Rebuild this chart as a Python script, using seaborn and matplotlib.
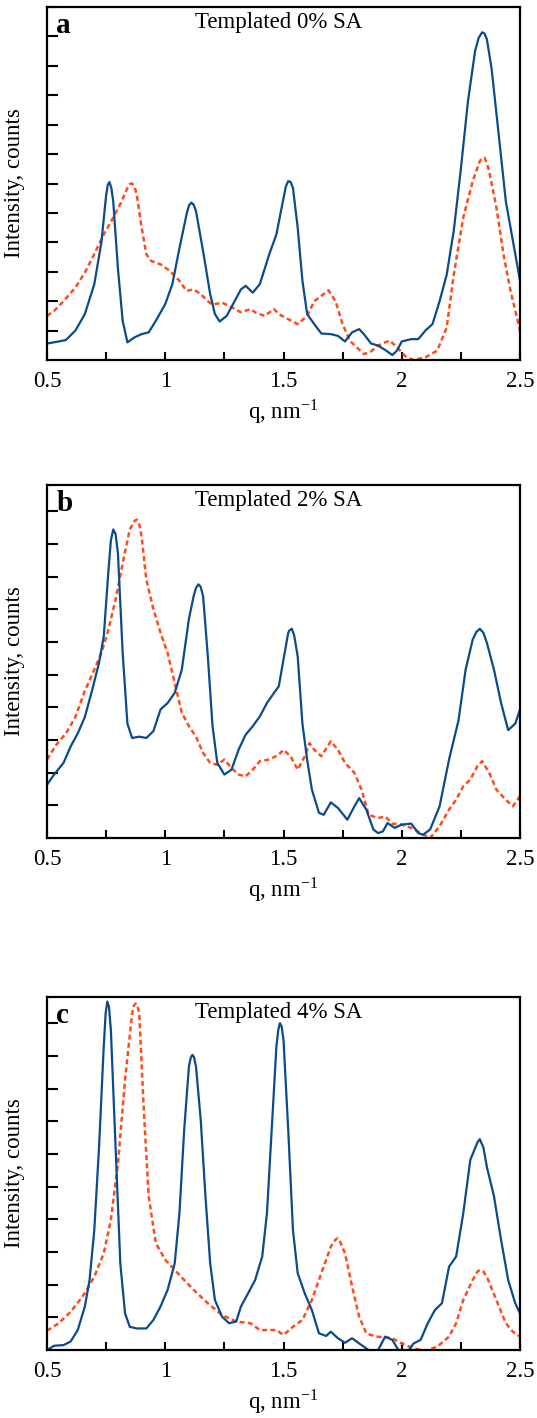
import numpy as np
import pandas as pd
import matplotlib
matplotlib.use("Agg")
import matplotlib.pyplot as plt
import seaborn as sns

# === SAXS data (intensity in tick units) ===
# panel a: templated 0% SA
q_a_blue = [0.50, 0.55, 0.58, 0.62, 0.66, 0.70, 0.73, 0.75, 0.757, 0.764, 0.772, 0.78, 0.80, 0.82, 0.84,
            0.87, 0.90, 0.93, 0.96, 1.00, 1.03, 1.06, 1.09, 1.10, 1.11, 1.12, 1.13, 1.16, 1.19, 1.21,
            1.23, 1.26, 1.29, 1.32, 1.34, 1.37, 1.40, 1.44, 1.47, 1.50, 1.51, 1.52, 1.53, 1.54, 1.56,
            1.58, 1.60, 1.63, 1.66, 1.70, 1.73, 1.76, 1.79, 1.82, 1.84, 1.87, 1.90, 1.93, 1.96, 1.98,
            2.00, 2.04, 2.07, 2.10, 2.13, 2.16, 2.19, 2.22, 2.25, 2.28, 2.31, 2.325, 2.34, 2.35, 2.36,
            2.38, 2.41, 2.44, 2.47, 2.50]
i_a_blue = [0.56, 0.63, 0.68, 1.00, 1.56, 2.58, 4.00, 5.60, 5.95, 6.05, 5.85, 5.40, 3.10, 1.33, 0.60,
            0.77, 0.88, 0.94, 1.33, 1.90, 2.58, 3.80, 4.95, 5.25, 5.35, 5.28, 5.06, 3.70, 2.24, 1.56,
            1.31, 1.50, 1.95, 2.40, 2.52, 2.29, 2.58, 3.60, 4.27, 5.50, 5.90, 6.08, 6.05, 5.85, 4.50,
            2.70, 1.56, 1.22, 0.90, 0.88, 0.82, 0.63, 0.94, 1.05, 0.88, 0.56, 0.49, 0.34, 0.17, 0.32,
            0.63, 0.71, 0.71, 1.00, 1.22, 2.00, 2.90, 4.40, 6.50, 8.80, 10.50, 10.95, 11.14, 11.10, 10.90,
            9.90, 7.66, 5.40, 4.05, 2.70]
q_a_red = [0.50, 0.53, 0.57, 0.62, 0.66, 0.70, 0.74, 0.78, 0.81, 0.84, 0.85, 0.86, 0.87, 0.88, 0.90,
           0.92, 0.94, 0.98, 1.02, 1.06, 1.09, 1.12, 1.15, 1.18, 1.20, 1.24, 1.28, 1.32, 1.36, 1.38,
           1.42, 1.46, 1.48, 1.52, 1.56, 1.60, 1.63, 1.66, 1.69, 1.72, 1.75, 1.78, 1.81, 1.84, 1.87,
           1.90, 1.93, 1.95, 1.98, 2.02, 2.05, 2.10, 2.15, 2.19, 2.22, 2.26, 2.30, 2.33, 2.34, 2.35,
           2.36, 2.37, 2.40, 2.43, 2.46, 2.50]
i_a_red = [1.50, 1.67, 2.00, 2.46, 2.97, 3.60, 4.27, 4.84, 5.30, 5.85, 5.98, 6.00, 5.90, 5.60, 4.50,
           3.60, 3.37, 3.25, 3.03, 2.69, 2.35, 2.40, 2.24, 2.00, 1.88, 1.95, 1.80, 1.62, 1.73, 1.62,
           1.50, 1.73, 1.56, 1.39, 1.22, 1.50, 2.00, 2.18, 2.37, 2.00, 1.22, 0.66, 0.43, 0.20, 0.29,
           0.49, 0.60, 0.66, 0.43, 0.09, 0.00, 0.09, 0.32, 1.10, 2.90, 4.84, 6.08, 6.76, 6.86, 6.87,
           6.70, 6.40, 5.20, 3.60, 2.35, 1.00]

# panel b: templated 2% SA
q_b_blue = [0.50, 0.53, 0.57, 0.60, 0.63, 0.66, 0.69, 0.72, 0.74, 0.76, 0.77, 0.78, 0.79, 0.80, 0.82,
            0.84, 0.86, 0.89, 0.92, 0.95, 0.98, 1.01, 1.04, 1.07, 1.10, 1.12, 1.13, 1.14, 1.15, 1.16,
            1.18, 1.20, 1.22, 1.25, 1.28, 1.31, 1.34, 1.37, 1.40, 1.43, 1.46, 1.48, 1.50, 1.52, 1.525,
            1.535, 1.545, 1.56, 1.58, 1.60, 1.62, 1.65, 1.67, 1.70, 1.73, 1.77, 1.80, 1.82, 1.85, 1.88,
            1.90, 1.92, 1.94, 1.97, 2.00, 2.04, 2.07, 2.09, 2.12, 2.16, 2.20, 2.24, 2.27, 2.30, 2.315,
            2.33, 2.345, 2.36, 2.39, 2.42, 2.45, 2.48, 2.50]
i_b_blue = [1.63, 1.94, 2.30, 2.80, 3.20, 3.70, 4.50, 5.36, 6.17, 8.20, 9.10, 9.44, 9.30, 8.70, 5.66,
            3.50, 3.06, 3.10, 3.06, 3.27, 3.93, 4.13, 4.44, 5.15, 6.70, 7.40, 7.65, 7.76, 7.68, 7.40,
            5.56, 3.42, 2.30, 1.94, 2.09, 2.70, 3.16, 3.42, 3.72, 4.13, 4.44, 4.64, 5.46, 6.28, 6.35,
            6.40, 6.20, 5.56, 3.50, 2.40, 1.48, 0.77, 0.71, 1.09, 0.92, 0.56, 0.97, 1.22, 0.87, 0.26,
            0.15, 0.20, 0.46, 0.31, 0.41, 0.44, 0.15, 0.10, 0.26, 0.97, 2.40, 3.60, 5.15, 6.07, 6.30,
            6.40, 6.28, 5.97, 5.15, 4.13, 3.30, 3.50, 3.93]
q_b_red = [0.50, 0.54, 0.58, 0.62, 0.66, 0.70, 0.73, 0.76, 0.79, 0.82, 0.85, 0.87, 0.88, 0.89, 0.90,
           0.92, 0.95, 0.98, 1.01, 1.04, 1.07, 1.10, 1.13, 1.16, 1.19, 1.22, 1.25, 1.28, 1.31, 1.34,
           1.37, 1.40, 1.44, 1.48, 1.50, 1.53, 1.56, 1.59, 1.61, 1.63, 1.66, 1.70, 1.73, 1.76, 1.80,
           1.83, 1.86, 1.90, 1.93, 1.96, 2.00, 2.04, 2.08, 2.12, 2.16, 2.20, 2.23, 2.26, 2.29, 2.32,
           2.34, 2.37, 2.40, 2.44, 2.47, 2.50]
i_b_red = [2.40, 2.86, 3.20, 3.70, 4.50, 5.15, 5.66, 6.38, 7.30, 8.40, 9.44, 9.70, 9.74, 9.60, 9.23,
           7.90, 7.00, 6.28, 5.66, 4.74, 3.83, 3.42, 3.10, 2.60, 2.30, 2.24, 2.40, 2.14, 1.94, 1.89,
           2.09, 2.35, 2.40, 2.55, 2.70, 2.50, 2.09, 2.50, 2.90, 2.70, 2.50, 2.96, 2.70, 2.30, 1.99,
           1.48, 0.71, 0.61, 0.66, 0.44, 0.41, 0.31, 0.15, 0.00, 0.36, 0.87, 1.17, 1.58, 1.79, 2.20,
           2.35, 1.99, 1.48, 1.17, 0.97, 1.28]

# panel c: templated 4% SA
q_c_blue = [0.50, 0.53, 0.57, 0.60, 0.63, 0.66, 0.68, 0.70, 0.72, 0.74, 0.748, 0.755, 0.762, 0.77, 0.79,
            0.81, 0.83, 0.85, 0.88, 0.92, 0.95, 0.98, 1.01, 1.04, 1.06, 1.08, 1.10, 1.108, 1.115, 1.122,
            1.13, 1.15, 1.17, 1.19, 1.21, 1.24, 1.27, 1.30, 1.32, 1.35, 1.38, 1.41, 1.43, 1.45, 1.47,
            1.478, 1.485, 1.492, 1.50, 1.52, 1.54, 1.56, 1.59, 1.62, 1.65, 1.68, 1.70, 1.73, 1.76, 1.79,
            1.82, 1.86, 1.88, 1.90, 1.93, 1.96, 1.99, 2.02, 2.05, 2.08, 2.11, 2.14, 2.17, 2.20, 2.23,
            2.26, 2.29, 2.32, 2.33, 2.345, 2.36, 2.39, 2.42, 2.45, 2.48, 2.50]
i_c_blue = [0.00, 0.13, 0.15, 0.26, 0.61, 1.33, 2.14, 3.67, 6.20, 9.30, 10.30, 10.66, 10.50, 9.80, 6.20,
            2.65, 1.12, 0.71, 0.66, 0.66, 0.92, 1.33, 1.84, 2.65, 4.18, 6.73, 8.67, 8.95, 9.03, 8.95,
            8.67, 7.04, 4.70, 2.65, 1.53, 1.02, 0.82, 0.87, 1.33, 1.73, 2.14, 2.86, 4.18, 6.73, 9.29,
            9.80, 10.00, 9.90, 9.49, 6.73, 3.67, 2.35, 1.73, 1.22, 0.51, 0.43, 0.56, 0.36, 0.22, 0.36,
            0.20, 0.00, -0.10, 0.00, 0.41, 0.31, -0.05, -0.10, 0.20, 0.31, 0.82, 1.22, 1.43, 2.55, 2.86,
            4.18, 5.82, 6.35, 6.45, 6.20, 5.60, 4.70, 3.37, 2.14, 1.43, 1.12]
q_c_red = [0.50, 0.55, 0.60, 0.65, 0.70, 0.74, 0.77, 0.80, 0.83, 0.86, 0.868, 0.875, 0.882, 0.89, 0.91,
           0.93, 0.96, 1.00, 1.04, 1.08, 1.12, 1.18, 1.24, 1.30, 1.36, 1.40, 1.44, 1.47, 1.50, 1.54,
           1.58, 1.62, 1.66, 1.70, 1.72, 1.73, 1.74, 1.76, 1.79, 1.82, 1.85, 1.89, 1.93, 1.96, 2.00,
           2.05, 2.10, 2.15, 2.20, 2.23, 2.26, 2.30, 2.32, 2.33, 2.345, 2.36, 2.40, 2.44, 2.47, 2.50]
i_c_red = [0.59, 0.82, 1.17, 1.63, 2.24, 2.96, 3.98, 5.70, 8.27, 10.30, 10.55, 10.60, 10.55, 10.30, 7.24,
           4.70, 3.27, 2.76, 2.45, 2.14, 1.84, 1.43, 1.07, 0.87, 0.82, 0.61, 0.61, 0.61, 0.46, 0.71,
           0.92, 1.53, 2.35, 3.16, 3.38, 3.42, 3.30, 2.96, 1.94, 1.02, 0.51, 0.41, 0.39, 0.36, 0.20,
           0.05, -0.02, 0.10, 0.41, 0.82, 1.53, 2.14, 2.40, 2.45, 2.40, 2.24, 1.53, 0.82, 0.56, 0.41]

panel_letters = ["a", "b", "c"]
panel_titles = ["Templated 0% SA", "Templated 2% SA", "Templated 4% SA"]
y_tops = [12.0, 10.8, 10.8]
x_major = [0.5, 1.0, 1.5, 2.0, 2.5]
x_labels = ["0.5", "1", "1.5", "2", "2.5"]

series = [
    (q_a_blue, i_a_blue, q_a_red, i_a_red),
    (q_b_blue, i_b_blue, q_b_red, i_b_red),
    (q_c_blue, i_c_blue, q_c_red, i_c_red),
]

BLUE = "#0b4a8b"
RED = "#ff4a1c"

sns.set_style("ticks")
plt.rcParams["font.family"] = ["Liberation Serif", "DejaVu Serif"]
plt.rcParams["mathtext.fontset"] = "stix"
for key in ["text.color", "axes.labelcolor", "xtick.color", "ytick.color", "axes.edgecolor"]:
    plt.rcParams[key] = "black"

fig = plt.figure(figsize=(5.37, 14.18), dpi=100)
W, H = 537, 1418
# axes boxes in pixels: left, top, right, bottom
boxes = [(47, 7, 520, 360), (47, 485, 520, 838), (47, 997, 520, 1350)]

for k, (qb, ib, qr, ir) in enumerate(series):
    l, t, r, b = boxes[k]
    ax = fig.add_axes([l / W, 1 - b / H, (r - l) / W, (b - t) / H])
    blue = pd.DataFrame({"q": qb, "I": ib})
    red = pd.DataFrame({"q": qr, "I": ir})
    sns.lineplot(data=red, x="q", y="I", ax=ax, color=RED, lw=1.8,
                 linestyle=(0, (2.0, 1.3)), estimator=None, sort=False)
    sns.lineplot(data=blue, x="q", y="I", ax=ax, color=BLUE, lw=1.6,
                 estimator=None, sort=False)

    ax.set_xlim(0.5, 2.5)
    ax.set_ylim(0, y_tops[k])
    ax.set_xticks(x_major)
    ax.set_xticklabels(x_labels, fontsize=16.5)
    ax.set_xticks(np.arange(0.75, 2.5, 0.5), minor=True)
    ax.set_yticks(np.arange(1, int(y_tops[k]) + 1))
    ax.set_yticklabels([])
    ax.tick_params(axis="both", which="both", direction="in", width=1.5,
                   top=False, right=False, pad=8, colors="black")
    ax.tick_params(axis="x", which="both", length=6)
    ax.tick_params(axis="y", length=8)
    for sp in ax.spines.values():
        sp.set_linewidth(1.6)
        sp.set_color("black")

    ax.set_xlabel(r"q, nm$^{\mathregular{-1}}$", fontsize=16.5, labelpad=4)
    ax.set_ylabel("Intensity, counts", fontsize=16.5, labelpad=8)
    ax.text(0.49, 0.955, panel_titles[k], transform=ax.transAxes,
            ha="center", va="center", fontsize=16.5)
    ax.text(0.02, 0.948, panel_letters[k], transform=ax.transAxes,
            ha="left", va="center", fontsize=21, fontweight="bold")

fig.savefig("out.png", dpi=100)
